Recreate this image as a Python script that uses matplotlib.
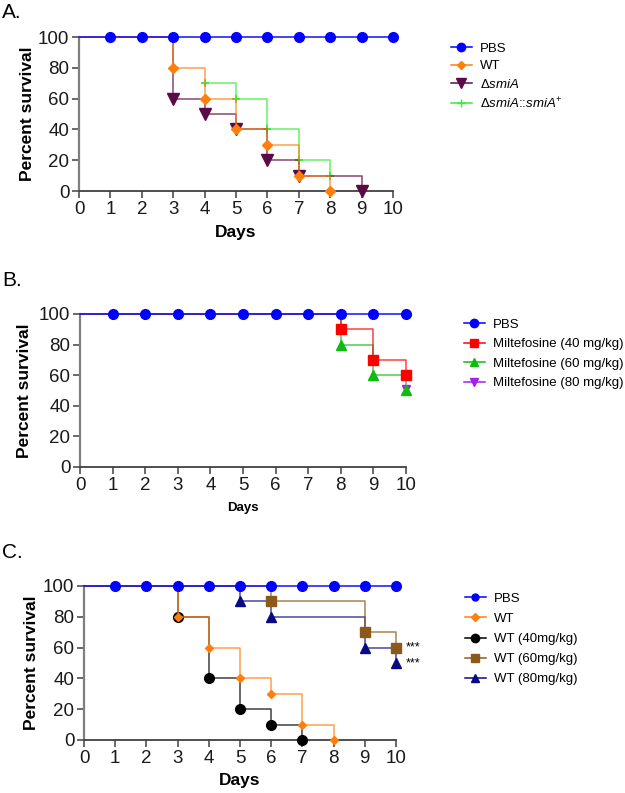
import matplotlib
matplotlib.use("Agg")
import matplotlib.pyplot as plt
from matplotlib.lines import Line2D

plt.rcParams['font.family'] = ['Liberation Sans', 'DejaVu Sans']
plt.rcParams['mathtext.fontset'] = 'custom'
plt.rcParams['mathtext.rm'] = 'Liberation Sans'
plt.rcParams['mathtext.it'] = 'Liberation Sans:italic'
plt.rcParams['mathtext.bf'] = 'Liberation Sans:bold'

# ---------------- data ----------------
days_ticks = list(range(0, 11))
y_ticks = [0, 20, 40, 60, 80, 100]

pbs_days = [1, 2, 3, 4, 5, 6, 7, 8, 9, 10]
pbs_surv = [100] * 10

# Panel A
a_labels = ['PBS', 'WT', r'Δ$\mathit{smiA}$', r'Δ$\mathit{smiA}$::$\mathit{smiA}^{+}$']
a_wt_days = [3, 4, 5, 6, 7, 8]
a_wt_surv = [80, 60, 40, 30, 10, 0]
a_ko_days = [3, 4, 5, 6, 7, 9]
a_ko_surv = [60, 50, 40, 20, 10, 0]
a_comp_days = [4, 5, 6, 7, 8]
a_comp_surv = [70, 60, 40, 20, 10]

# Panel B
b_labels = ['PBS', 'Miltefosine (40 mg/kg)', 'Miltefosine (60 mg/kg)', 'Miltefosine (80 mg/kg)']
b_40_days = [8, 9, 10]
b_40_surv = [90, 70, 60]
b_60_days = [8, 9, 10]
b_60_surv = [80, 60, 50]
b_80_days = [10]
b_80_surv = [51]

# Panel C
c_labels = ['PBS', 'WT', 'WT (40mg/kg)', 'WT (60mg/kg)', 'WT (80mg/kg)']
c_wt_days = [3, 4, 5, 6, 7, 8]
c_wt_surv = [80, 60, 40, 30, 10, 0]
c_40_days = [3, 4, 5, 6, 7]
c_40_surv = [80, 40, 20, 10, 0]
c_60_days = [6, 9, 10]
c_60_surv = [90, 70, 60]
c_80_days = [5, 6, 9, 10]
c_80_surv = [90, 80, 60, 50]
c_sig_labels = ['***', '***']
c_sig_y = [60, 50]

W, H = 625, 793
fig = plt.figure(figsize=(W / 100, H / 100), dpi=100)


def add_ax(left, right, top, bottom):
    return fig.add_axes([left / W, 1 - bottom / H, (right - left) / W, (bottom - top) / H])


def km(ax, days, surv, color, marker, ms, z, mew=1.0, from_start=True):
    if from_start:
        xs = [0] + list(days)
        ys = [100] + list(surv)
    else:
        xs = list(days)
        ys = list(surv)
    if len(xs) > 1:
        ax.step(xs, ys, where='post', color=color, lw=1.1, alpha=0.75, zorder=z, clip_on=False)
    ax.plot(days, surv, ls='none', marker=marker, color=color, ms=ms, mew=mew,
            zorder=z + 0.5, clip_on=False)


def pbs(ax):
    ax.plot([0] + pbs_days, [100] + pbs_surv, color='#1010ff', lw=1.1, zorder=10, clip_on=False)
    ax.plot(pbs_days, pbs_surv, ls='none', marker='o', color='#0000ff', ms=7, zorder=10.5, clip_on=False)


def style(ax, xfs, xlab_y, ylab_x):
    ax.set_xlim(0, 10)
    ax.set_ylim(0, 100)
    ax.set_xticks(days_ticks)
    ax.set_yticks(y_ticks)
    for s in ['top', 'right']:
        ax.spines[s].set_visible(False)
    ax.spines['left'].set_color('#7f7f7f')
    ax.spines['left'].set_linewidth(1.6)
    ax.spines['bottom'].set_color('#404040')
    ax.spines['bottom'].set_linewidth(1.3)
    ax.tick_params(axis='both', direction='out', length=5, width=1.1, colors='#404040',
                   labelsize=13.5, labelcolor='#1a1a1a', pad=2)
    ax.set_xlabel('Days', fontsize=xfs, fontweight='bold', va='center')
    ax.set_ylabel('Percent survival', fontsize=12.5, fontweight='bold', va='center')
    pos = ax.get_position()
    ax.xaxis.set_label_coords(pos.x0 + pos.width / 2, 1 - xlab_y / H, transform=fig.transFigure)
    ax.yaxis.set_label_coords(ylab_x / W, pos.y0 + pos.height / 2, transform=fig.transFigure)


def legend(ax, handles, labels, x, y, fs, spacing):
    ax.legend(handles, labels, loc='upper left', bbox_to_anchor=(x / W, 1 - y / H),
              bbox_transform=fig.transFigure, frameon=False, fontsize=fs, borderpad=0,
              handlelength=1.6, handletextpad=0.6, labelspacing=spacing)


def h(color, marker, ms):
    return Line2D([], [], color=color, marker=marker, ms=ms, lw=1.1)


# ---------------- Panel A ----------------
axA = add_ax(79, 393, 37, 191)
cA = ['#0000ff', '#ff7f0e', '#5c0a45', '#33ee33']
km(axA, a_comp_days, a_comp_surv, cA[3], '+', 6, 3, mew=1.3, from_start=False)
km(axA, a_ko_days, a_ko_surv, cA[2], 'v', 8, 4)
km(axA, a_wt_days, a_wt_surv, cA[1], 'D', 5, 5)
pbs(axA)
style(axA, 12.5, 232, 28)
legend(axA, [h(cA[0], 'o', 6), h(cA[1], 'D', 4), h(cA[2], 'v', 7), h(cA[3], '+', 6)],
       a_labels, 444, 36, 9.5, 0.4)
fig.text(2 / W, 1 - 13 / H, 'A.', fontsize=15, va='center', ha='left')

# ---------------- Panel B ----------------
axB = add_ax(80, 406, 314, 467)
cB = ['#0000ff', '#ff0000', '#10bb10', '#a020f0']
km(axB, b_80_days, b_80_surv, cB[3], 'v', 6, 3, from_start=False)
km(axB, b_60_days, b_60_surv, cB[2], '^', 7, 4)
km(axB, b_40_days, b_40_surv, cB[1], 's', 7, 5)
pbs(axB)
style(axB, 9.5, 508, 25)
legend(axB, [h(cB[0], 'o', 6), h(cB[1], 's', 6), h(cB[2], '^', 6), h(cB[3], 'v', 6)],
       b_labels, 457, 312, 9.5, 0.55)
fig.text(2 / W, 1 - 280 / H, 'B.', fontsize=15, va='center', ha='left')

# ---------------- Panel C ----------------
axC = add_ax(84, 396, 586, 740)
cC = ['#0000ff', '#ff7f0e', '#000000', '#8b5a1a', '#0a0a80']
km(axC, c_80_days, c_80_surv, cC[4], '^', 7, 3)
km(axC, c_60_days, c_60_surv, cC[3], 's', 7, 4)
km(axC, c_40_days, c_40_surv, cC[2], 'o', 7, 5)
km(axC, c_wt_days, c_wt_surv, cC[1], 'D', 4.5, 6)
pbs(axC)
style(axC, 12.5, 781, 32)
for lab, yv in zip(c_sig_labels, c_sig_y):
    axC.text(10.3, yv, lab, fontsize=9, va='center', ha='left', clip_on=False)
legend(axC, [h(cC[0], 'o', 5), h(cC[1], 'D', 4), h(cC[2], 'o', 6), h(cC[3], 's', 6), h(cC[4], '^', 6)],
       c_labels, 458, 586, 9.5, 0.6)
fig.text(2 / W, 1 - 552 / H, 'C.', fontsize=15, va='center', ha='left')

fig.savefig('out.png', dpi=100)
